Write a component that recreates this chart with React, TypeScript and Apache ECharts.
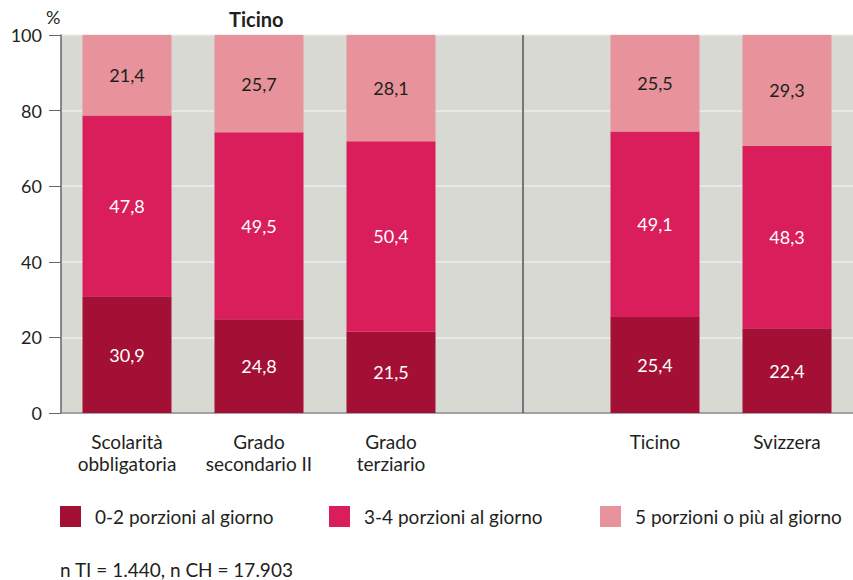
import React, { useEffect, useRef } from "react";
import * as echarts from "echarts";

const categories = ["Scolarità\nobbligatoria", "Grado\nsecondario II", "Grado\nterziario", "", "Ticino", "Svizzera"];
const seriesNames = ["0-2 porzioni al giorno", "3-4 porzioni al giorno", "5 porzioni o più al giorno"];
const low = [30.9, 24.8, 21.5, null, 25.4, 22.4];
const mid = [47.8, 49.5, 50.4, null, 49.1, 48.3];
const high = [21.4, 25.7, 28.1, null, 25.5, 29.3];
const colors = ["#a30f35", "#d91e5b", "#e8939b"];
const labelColors = ["#ffffff", "#ffffff", "#231f20"];
const yTicks = { min: 0, max: 100, interval: 20 };
const title = "Ticino";
const unit = "%";
const footnote = "n TI = 1.440, n CH = 17.903";

const FONT = "Lato, 'Open Sans', sans-serif";

export default function App() {
  const ref = useRef<HTMLDivElement>(null);
  useEffect(() => {
    document.body.style.margin = "0";
    const chart = echarts.init(ref.current!, null, { renderer: "svg" });
    const dataSets = [low, mid, high];
    const series: any[] = dataSets.map((d, i) => ({
      name: seriesNames[i],
      type: "bar",
      stack: "total",
      barWidth: 89,
      data: d,
      itemStyle: { color: colors[i] },
      label: {
        show: true,
        position: "inside",
        color: labelColors[i],
        fontFamily: FONT,
        fontSize: 18,
        formatter: (p: any) => (p.value == null ? "" : String(p.value).replace(".", ",")),
      },
      ...(i === 0
        ? {
            markLine: {
              silent: true,
              symbol: "none",
              label: { show: false },
              lineStyle: { color: "#555555", width: 1.5, type: "solid" },
              data: [{ xAxis: 3 }],
            },
          }
        : {}),
    }));
    const legendLefts = [55, 324, 595];
    chart.setOption({
      animation: false,
      textStyle: { fontFamily: FONT },
      grid: {
        left: 61,
        right: 0,
        top: 35,
        bottom: 167,
        show: true,
        backgroundColor: "#d9d9d4",
        borderWidth: 0,
      },
      legend: seriesNames.map((n, i) => ({
        data: [n],
        left: legendLefts[i],
        top: 501,
        icon: "rect",
        itemWidth: 21,
        itemHeight: 21,
        selectedMode: false,
        textStyle: {
          fontFamily: FONT,
          fontSize: 19,
          color: "#231f20",
          padding: [0, 0, 0, 9],
        },
      })),
      xAxis: {
        type: "category",
        data: categories,
        axisLine: { show: true, lineStyle: { color: "#8a8a8a", width: 1.5 } },
        axisTick: { show: false },
        axisLabel: {
          fontFamily: FONT,
          fontSize: 19,
          color: "#231f20",
          margin: 17,
          lineHeight: 22,
          interval: 0,
        },
      },
      yAxis: {
        type: "value",
        min: yTicks.min,
        max: yTicks.max,
        interval: yTicks.interval,
        axisLine: { show: true, lineStyle: { color: "#666666", width: 1.5 } },
        axisTick: { show: true, inside: false, length: 12, lineStyle: { color: "#666666" } },
        axisLabel: { fontFamily: FONT, fontSize: 18, color: "#231f20", margin: 19 },
        splitLine: { show: true, lineStyle: { color: "#ececea", width: 1.5 } },
      },
      graphic: [
        {
          type: "text",
          left: 229,
          top: 9,
          style: { text: title, font: `bold 20px ${FONT}`, fill: "#231f20" },
        },
        {
          type: "text",
          left: 46,
          top: 8,
          style: { text: unit, font: `18px ${FONT}`, fill: "#231f20" },
        },
        {
          type: "text",
          left: 60,
          top: 560,
          style: { text: footnote, font: `19px ${FONT}`, fill: "#231f20" },
        },
      ],
      series,
    });
    return () => chart.dispose();
  }, []);
  return <div ref={ref} style={{ width: 853, height: 580 }} />;
}
